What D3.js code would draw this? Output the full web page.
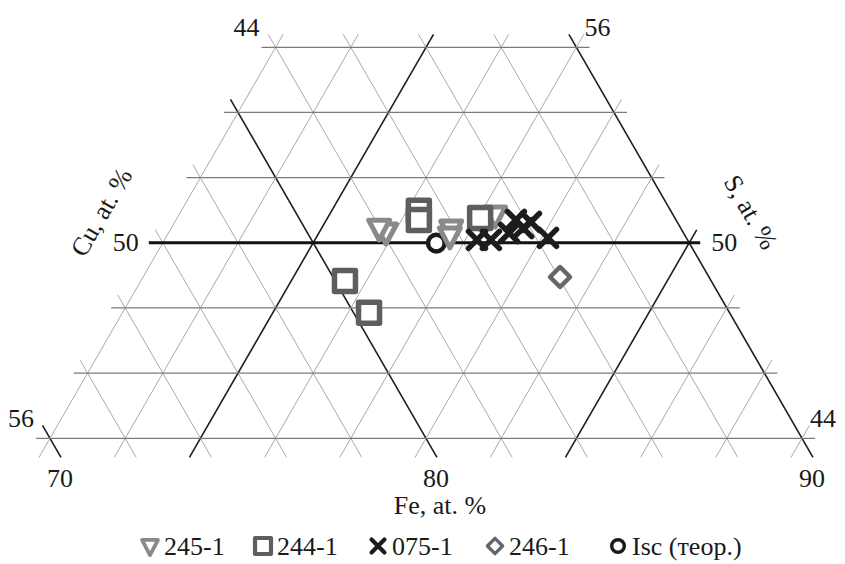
<!DOCTYPE html>
<html>
<head>
<meta charset="utf-8">
<script src="https://cdn.jsdelivr.net/npm/d3@7/dist/d3.min.js"></script>
<style>
html,body{margin:0;padding:0;background:#fff;}
svg{display:block;}
text{font-family:"Liberation Serif","Times New Roman",serif;fill:#1a1a1a;}
</style>
</head>
<body>
<svg id="chart" width="845" height="564"></svg>
<script>
// ---------- data ----------
const seriesNames = ["245-1", "244-1", "075-1", "246-1", "Isc (теор.)"];
// 245-1 (triangles)
const fe245 = [82.10, 81.98, 83.88, 83.74, 85.26];
const cu245 = [49.67, 49.55, 49.58, 49.79, 49.15];
// 244-1 (squares)
const fe244 = [83.30, 83.16, 84.82, 80.26, 80.41];
const cu244 = [49.02, 49.30, 49.24, 51.17, 52.15];
// 075-1 (crosses)
const fe075 = [84.40, 84.77, 85.36, 85.74, 85.81, 86.11, 86.32];
const cu075 = [49.91, 49.91, 49.70, 49.30, 49.55, 49.36, 49.85];
// 246-1 (diamond)
const fe246 = [86.04];
const cu246 = [51.05];
// Isc theoretical (circle)
const feIsc = [83.27];
const cuIsc = [50.01];

const feTicks = [70, 80, 90];
const cuTickLabels = ["44", "50", "56"];
const sTickLabels = ["56", "50", "44"];
const cuTickValues = [44, 50, 56];
const feTitle = "Fe, at. %";
const cuTitle = "Cu, at. %";
const sTitle = "S, at. %";

// ---------- layout ----------
const svg = d3.select("#chart");
const FE_MIN = 70, FE_MAX = 90, CU_MIN = 44, CU_MAX = 56, STEP = 2;
const yScale = d3.scaleLinear().domain([CU_MIN, CU_MAX]).range([47.3, 438.3]);
// x position of a constant-Fe line on the bottom row (Cu = 56)
const xScale = d3.scaleLinear().domain([FE_MIN, FE_MAX]).range([50, 802]);
// projection: Fe lines slope "\" (60 deg), Cu lines horizontal
function proj(fe, cu) {
  return [xScale(fe - (CU_MAX - cu) / 2), yScale(cu)];
}
const SIN60 = Math.sin(Math.PI / 3);
const EXT_TOP = 13 / SIN60, EXT_BOT = 19 / SIN60;

function extendSeg(p1, p2) { // p1 top, p2 bottom
  const dx = p2[0] - p1[0], dy = p2[1] - p1[1];
  const L = Math.hypot(dx, dy);
  const ux = dx / L, uy = dy / L;
  return [[p1[0] - ux * EXT_TOP, p1[1] - uy * EXT_TOP], [p2[0] + ux * EXT_BOT, p2[1] + uy * EXT_BOT]];
}
function stub(p, dirX) {
  const d = [dirX * Math.cos(Math.PI / 3), SIN60];
  return [[p[0] - d[0] * EXT_TOP, p[1] - d[1] * EXT_TOP], [p[0] + d[0] * EXT_BOT, p[1] + d[1] * EXT_BOT]];
}

const gGrid = svg.append("g");
const lineGen = d3.line();

// constant-Fe lines "\"
const feLines = d3.range(FE_MIN, FE_MAX + 0.001, STEP);
feLines.forEach(f => {
  const cuTop = Math.max(CU_MIN, FE_MIN - f + CU_MAX);
  const bot = proj(f, CU_MAX);
  const seg = cuTop >= CU_MAX ? stub(bot, 1) : extendSeg(proj(f, cuTop), bot);
  const major = (f - FE_MIN) % 10 === 0;
  gGrid.append("path").attr("d", lineGen(seg))
    .attr("stroke", major ? "#1e1e1e" : "#a9a9a9")
    .attr("stroke-width", major ? 1.6 : 1).attr("fill", "none");
});

// "/" lines, parameter g = x on bottom row
const gLines = d3.range(FE_MIN, FE_MAX + 0.001, STEP);
gLines.forEach(g => {
  const cuTop = Math.max(CU_MIN, g - (FE_MAX - CU_MAX));
  const feAt = cu => g + (CU_MAX - cu);
  const bot = proj(feAt(CU_MAX), CU_MAX);
  const seg = cuTop >= CU_MAX ? stub(bot, -1) : extendSeg(proj(feAt(cuTop), cuTop), bot);
  const major = (g - FE_MIN - 4) % 10 === 0;
  gGrid.append("path").attr("d", lineGen(seg))
    .attr("stroke", major ? "#1e1e1e" : "#a9a9a9")
    .attr("stroke-width", major ? 1.6 : 1).attr("fill", "none");
});

// horizontal Cu lines
const cuLines = d3.range(CU_MIN, CU_MAX + 0.001, STEP);
const rowEnds = {};
cuLines.forEach(c => {
  const left = proj(FE_MIN + (CU_MAX - c), c);
  const right = proj(FE_MAX, c);
  const bold = c === 50;
  const x1 = left[0] - 14, x2 = right[0] + (bold ? 11 : 13);
  rowEnds[c] = [x1, x2, left[1]];
  gGrid.append("line").attr("x1", x1).attr("x2", x2).attr("y1", left[1]).attr("y2", left[1])
    .attr("stroke", bold ? "#111" : "#7b7b7b").attr("stroke-width", bold ? 3 : 1.3);
});

// ---------- tick labels ----------
const gLab = svg.append("g").style("font-size", "26px");
cuTickValues.forEach((c, i) => {
  const [x1, x2, y] = rowEnds[c];
  const mid = c === 50;
  gLab.append("text").attr("x", mid ? x1 - 10 : x1 - 2).attr("y", mid ? y + 8.5 : y - 11)
    .attr("text-anchor", "end").text(cuTickLabels[i]);
  gLab.append("text").attr("x", mid ? x2 + 11 : x2 - 5).attr("y", mid ? y + 8.5 : y - 11)
    .attr("text-anchor", "start").text(sTickLabels[i]);
});
feTicks.forEach(f => {
  const p = proj(f, CU_MAX);
  gLab.append("text").attr("x", p[0] + 10).attr("y", 487).attr("text-anchor", "middle").text(f);
});
gLab.append("text").attr("x", 440).attr("y", 514).attr("text-anchor", "middle").text(feTitle);
gLab.append("text").attr("transform", "translate(101,212) rotate(-60)").attr("text-anchor", "middle")
  .attr("dy", "0.35em").text(cuTitle);
gLab.append("text").attr("transform", "translate(751,212) rotate(60)").attr("text-anchor", "middle")
  .attr("dy", "0.35em").text(sTitle);

// ---------- markers ----------
const styles = [
  {shape: "tri", color: "#8a8a8a", sw: 5},
  {shape: "sq", color: "#5e5e5e", sw: 5.5},
  {shape: "x", color: "#1c1c1c", sw: 5.5},
  {shape: "dia", color: "#666666", sw: 4.5},
  {shape: "circ", color: "#1a1a1a", sw: 4.5}
];
function shapePath(shape, s) { // s = scale
  switch (shape) {
    case "tri": return `M${-10.5*s},${-8*s}L${10.5*s},${-8*s}L0,${12*s}Z`;
    case "sq": return `M${-10.5*s},${-10.5*s}H${10.5*s}V${10.5*s}H${-10.5*s}Z`;
    case "x": return `M${-8.5*s},${-8.5*s}L${8.5*s},${8.5*s}M${8.5*s},${-8.5*s}L${-8.5*s},${8.5*s}`;
    case "dia": return `M0,${-10*s}L${10*s},0L0,${10*s}L${-10*s},0Z`;
    case "circ": return d3.arc()({innerRadius: 0, outerRadius: 8.3*s, startAngle: 0, endAngle: 2*Math.PI});
  }
}
function drawMarker(g, shape, st, x, y, s) {
  g.append("path").attr("d", shapePath(shape, s)).attr("transform", `translate(${x},${y})`)
    .attr("fill", shape === "x" ? "none" : "#fff").attr("stroke", st.color).attr("stroke-width", st.sw * s)
    .attr("stroke-linejoin", "round").attr("stroke-linecap", "round");
}
const dataSets = [[fe245, cu245], [fe244, cu244], [fe075, cu075], [fe246, cu246], [feIsc, cuIsc]];
const drawOrder = [4, 0, 1, 2, 3];
const gPts = svg.append("g");
drawOrder.forEach(k => {
  const ds = dataSets[k];
  ds[0].forEach((fe, i) => {
    const p = proj(fe, ds[1][i]);
    drawMarker(gPts, styles[k].shape, styles[k], p[0], p[1], 1);
  });
});

// ---------- legend ----------
const legendX = [150, 263, 378, 495, 618];
const gLeg = svg.append("g").style("font-size", "26px");
seriesNames.forEach((n, k) => {
  drawMarker(gLeg, styles[k].shape, styles[k], legendX[k], 546, 0.76);
  gLeg.append("text").attr("x", legendX[k] + 14).attr("y", 555).text(n);
});
</script>
</body>
</html>
